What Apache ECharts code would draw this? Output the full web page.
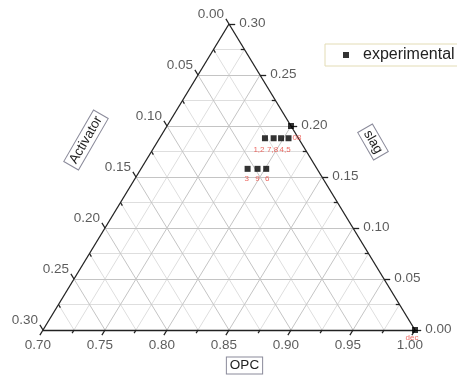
<!DOCTYPE html>
<html>
<head>
<meta charset="utf-8">
<script src="https://cdn.jsdelivr.net/npm/echarts@6/dist/echarts.min.js"></script>
<style>
  html, body { margin: 0; background: #fff; }
  #chart { width: 457px; height: 376px; }
</style>
</head>
<body>
<div id="chart"></div>
<script>
// ternary data: OPC + Activator + slag = 1
var pointNames = ['dec', '', '1,2', '7,8', '4,5', '08', '3', '9', '6'];
var opcVals  = [1.000, 0.800, 0.785, 0.792, 0.798, 0.804, 0.786, 0.794, 0.801];
var actVals  = [0.000, 0.000, 0.027, 0.020, 0.014, 0.008, 0.056, 0.048, 0.041];
var slagVals = [0.000, 0.200, 0.188, 0.188, 0.188, 0.188, 0.158, 0.158, 0.158];

// axis ticks
var tickSteps = [0.00, 0.05, 0.10, 0.15, 0.20, 0.25, 0.30];
var minorSteps = [0.025, 0.075, 0.125, 0.175, 0.225, 0.275];
var opcTickLabels = ['0.70', '0.75', '0.80', '0.85', '0.90', '0.95', '1.00'];
var actTickLabels = ['0.00', '0.05', '0.10', '0.15', '0.20', '0.25', '0.30'];
var slagTickLabels = ['0.00', '0.05', '0.10', '0.15', '0.20', '0.25', '0.30'];
// grid lines every 0.025
var gridSteps = [0.025, 0.05, 0.075, 0.10, 0.125, 0.15, 0.175, 0.20, 0.225, 0.25, 0.275];

var OPC0 = 0.7;  // OPC at the left edge

// ternary -> cartesian (x along OPC axis, y = slag)
function tern(o, a, s) {
  return [o - OPC0 + s / 2, s];
}

var chart = echarts.init(document.getElementById('chart'));

var gridMajor = [], gridMinor = [];
gridSteps.forEach(function (t) {
  var major = Math.abs(t * 20 - Math.round(t * 20)) < 1e-6;
  var arr = major ? gridMajor : gridMinor;
  // constant slag
  arr.push({ coords: [tern(OPC0, 0.3 - t, t), tern(1 - t, 0, t)] });
  // constant OPC
  var o = OPC0 + t;
  arr.push({ coords: [tern(o, 1 - o, 0), tern(o, 0, 1 - o)] });
  // constant Activator
  arr.push({ coords: [tern(1 - t, t, 0), tern(OPC0, t, 0.3 - t)] });
});

var edges = [
  { coords: [tern(OPC0, 0.3, 0), tern(1, 0, 0)] },
  { coords: [tern(1, 0, 0), tern(OPC0, 0, 0.3)] },
  { coords: [tern(OPC0, 0, 0.3), tern(OPC0, 0.3, 0)] }
];

var d = 0.005, dm = 0.003;
var ticks = [];
var opcLab = [], actLab = [], slagLab = [];
tickSteps.forEach(function (t, i) {
  var o = OPC0 + t;
  // bottom (OPC) ticks, along constant-OPC lines
  var b0 = tern(o, 1 - o, 0), b1 = tern(o, 1 - o + d, -d);
  ticks.push({ coords: [b0, b1] });
  opcLab.push(b1.concat([opcTickLabels[i]]));
  // left (Activator) ticks, along constant-Activator lines
  var l0 = tern(OPC0, t, 0.3 - t), l1 = tern(OPC0 - d, t, 0.3 - t + d);
  ticks.push({ coords: [l0, l1] });
  actLab.push(l1.concat([actTickLabels[i]]));
  // right (slag) ticks, along constant-slag lines
  var r0 = tern(1 - t, 0, t), r1 = tern(1 - t + d, -d, t);
  ticks.push({ coords: [r0, r1] });
  slagLab.push(r1.concat([slagTickLabels[i]]));
});
minorSteps.forEach(function (t) {
  var o = OPC0 + t;
  ticks.push({ coords: [tern(o, 1 - o, 0), tern(o, 1 - o + dm, -dm)] });
  ticks.push({ coords: [tern(OPC0, t, 0.3 - t), tern(OPC0 + dm, t, 0.3 - t - dm)] });
  ticks.push({ coords: [tern(1 - t, 0, t), tern(1 - t - dm, dm, t)] });
});

// label placement tweaks (Origin spreads the crowded labels a little)
var labelTweak = {
  'dec': { distance: 1, offset: [-3, 0] },
  '08': { position: 'right', distance: 1 },
  '1,2': { distance: 5, offset: [-6, 0] },
  '7,8': { distance: 5, offset: [-1, 0] },
  '4,5': { distance: 5, offset: [4, 0] },
  '3': { offset: [-1, 0] },
  '6': { offset: [1, 0] }
};

var points = pointNames.map(function (n, i) {
  var p = tern(opcVals[i], actVals[i], slagVals[i]);
  var lab = Object.assign({ show: n !== '', position: 'bottom', distance: 3 }, labelTweak[n] || {});
  return { value: p.concat([n]), label: lab };
});

var tickFont = { fontSize: 13.5, color: '#333', fontFamily: 'Liberation Sans' };

function labelSeries(data, label) {
  return {
    type: 'scatter', data: data, symbolSize: 0, silent: true, clip: false,
    label: Object.assign({ show: true, formatter: function (p) { return p.value[2]; } }, tickFont, label)
  };
}

var titleStyle = {
  font: '13.5px "Liberation Sans"', fill: '#222', align: 'center', verticalAlign: 'middle',
  backgroundColor: '#fff', borderColor: '#8a8a9a', borderWidth: 1, padding: [1, 3]
};

var option = {
  animation: false,
  grid: { left: 43, top: 24, width: 372, height: 306 },
  xAxis: { type: 'value', min: 0, max: 0.3, show: false },
  yAxis: { type: 'value', min: 0, max: 0.3, show: false },
  legend: {
    data: ['experimental'],
    left: 325, top: 44,
    icon: 'rect', itemWidth: 6, itemHeight: 6,
    padding: [3, 30, 3, 18],
    borderColor: '#e3dcb5', borderWidth: 1,
    textStyle: { fontSize: 16, color: '#222', fontFamily: 'Liberation Sans', padding: [0, 0, 0, 9] }
  },
  graphic: [
    { type: 'text', x: 86, y: 140, rotation: Math.PI / 3, style: Object.assign({ text: 'Activator' }, titleStyle) },
    { type: 'text', x: 373, y: 142, rotation: -Math.PI / 3, style: Object.assign({ text: 'slag' }, titleStyle) },
    { type: 'text', x: 244.5, y: 365.5, style: Object.assign({ text: 'OPC' }, titleStyle) }
  ],
  series: [
    { type: 'lines', coordinateSystem: 'cartesian2d', silent: true, clip: false,
      lineStyle: { color: '#dedede', width: 1, opacity: 1 }, data: gridMinor },
    { type: 'lines', coordinateSystem: 'cartesian2d', silent: true, clip: false,
      lineStyle: { color: '#c4c4c4', width: 1, opacity: 1 }, data: gridMajor },
    { type: 'lines', coordinateSystem: 'cartesian2d', silent: true, clip: false,
      lineStyle: { color: '#222', width: 1.3, opacity: 1 }, data: edges.concat(ticks) },
    labelSeries(opcLab, { position: 'bottom', distance: 3, offset: [-2, 0] }),
    labelSeries(actLab, { position: 'left', distance: 2, offset: [0, -5] }),
    labelSeries(slagLab, { position: 'right', distance: 4, offset: [0, -1] }),
    {
      name: 'experimental', type: 'scatter', symbol: 'rect', symbolSize: 6, clip: false,
      itemStyle: { color: '#000' },
      label: { fontSize: 8, color: '#e8453c', fontFamily: 'Liberation Sans',
        formatter: function (p) { return p.value[2]; } },
      data: points, z: 5
    }
  ]
};

chart.setOption(option);
</script>
</body>
</html>
